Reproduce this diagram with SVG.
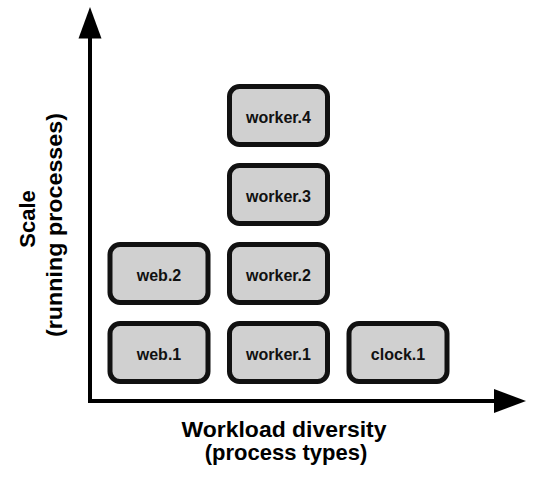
<svg xmlns="http://www.w3.org/2000/svg" width="550" height="495" viewBox="0 0 550 495">
<style>
.box{fill:#d0d0d0;stroke:#111;stroke-width:5}
.lbl{font-family:"Liberation Sans",Arial,sans-serif;font-weight:bold;font-size:16px;fill:#111;text-anchor:middle}
.ax{font-family:"Liberation Sans",Arial,sans-serif;font-weight:bold;font-size:22px;fill:#000;text-anchor:middle}
.axis{stroke:#000;stroke-width:4;fill:none}
</style>
<rect width="550" height="495" fill="#fff"/>
<g id="connectors">
<line class="axis" x1="90" y1="402" x2="90" y2="36"/>
<polygon points="90,7 78.5,38.5 101.5,38.5" fill="#000"/>
<line class="axis" x1="88" y1="401" x2="497" y2="401"/>
<polygon points="526,401 494,389 494,413" fill="#000"/>
</g>
<g id="web1"><rect class="box" x="110" y="323.5" width="98" height="58" rx="10"/><text class="lbl" x="159" y="360">web.1</text></g>
<g id="web2"><rect class="box" x="110" y="244.5" width="98" height="58" rx="10"/><text class="lbl" x="159" y="281">web.2</text></g>
<g id="worker1"><rect class="box" x="229.5" y="323.5" width="98" height="58" rx="10"/><text class="lbl" x="278.5" y="360">worker.1</text></g>
<g id="worker2"><rect class="box" x="229.5" y="244.5" width="98" height="58" rx="10"/><text class="lbl" x="278.5" y="281">worker.2</text></g>
<g id="worker3"><rect class="box" x="229.5" y="165.5" width="98" height="58" rx="10"/><text class="lbl" x="278.5" y="202">worker.3</text></g>
<g id="worker4"><rect class="box" x="229.5" y="86.5" width="98" height="58" rx="10"/><text class="lbl" x="278.5" y="123">worker.4</text></g>
<g id="clock1"><rect class="box" x="349" y="323.5" width="98" height="58" rx="10"/><text class="lbl" x="398" y="360">clock.1</text></g>
<g id="yaxis-label">
<text class="ax" transform="translate(35,219) rotate(-90)">Scale</text>
<text class="ax" transform="translate(62,225) rotate(-90)" textLength="224" lengthAdjust="spacingAndGlyphs">(running processes)</text>
</g>
<g id="xaxis-label">
<text class="ax" x="284" y="437" textLength="205" lengthAdjust="spacingAndGlyphs">Workload diversity</text>
<text class="ax" x="286" y="460">(process types)</text>
</g>
</svg>
